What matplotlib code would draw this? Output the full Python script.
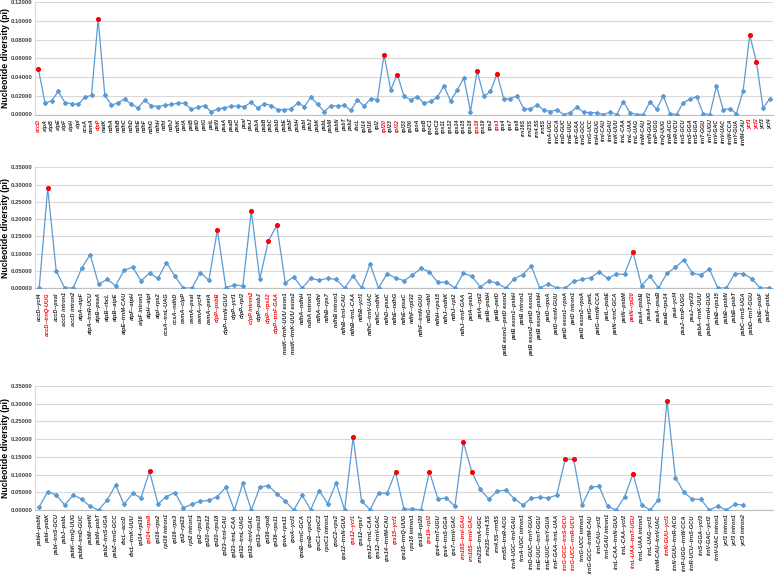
import matplotlib
matplotlib.use("Agg")
import matplotlib.pyplot as plt
import numpy as np
from matplotlib.ticker import FormatStrFormatter

plt.rcParams['font.family'] = ['Liberation Sans', 'DejaVu Sans']

# ---------------- Panel 1: genes ----------------
genes = ["accD", "atpA", "atpB", "atpE", "atpF", "atpH", "atpI", "ccsA", "cemA", "clpP",
         "matK", "ndhA", "ndhB", "ndhC", "ndhD", "ndhE", "ndhF", "ndhG", "ndhH", "ndhI",
         "ndhJ", "ndhK", "petA", "petB", "petD", "petG", "petL", "petN", "psaA", "psaB",
         "psaC", "psaI", "psaJ", "psbA", "psbB", "psbC", "psbD", "psbE", "psbF", "psbH",
         "psbI", "psbJ", "psbK", "psbL", "psbM", "psbN", "psbT", "psbZ", "rbcL", "rpl14",
         "rpl16", "rpl2", "rpl20", "rpl23", "rpl32", "rpl33", "rpl36", "rpoA", "rpoB", "rpoC1",
         "rpoC2", "rps11", "rps12", "rps14", "rps15", "rps16", "rps18", "rps19", "rps2", "rps3",
         "rps4", "rps7", "rps8", "rrn16S", "rrn23S", "rrn4.5S", "rrn5S", "trnA-UGC", "trnC-GCA", "trnD-GUC",
         "trnE-UUC", "trnF-GAA", "trnG-GCC", "trnG-UCC", "trnH-GUG", "trnI-CAU", "trnI-GAU", "trnK-UUU", "trnL-CAA", "trnL-UAA",
         "trnL-UAG", "trnM-CAU", "trnN-GUU", "trnP-UGG", "trnQ-UUG", "trnR-ACG", "trnR-UCU", "trnS-GCU", "trnS-GGA", "trnS-UGA",
         "trnT-GGU", "trnT-UGU", "trnV-GAC", "trnV-UAC", "trnW-CCA", "trnY-GUA", "trnfM-CAU", "ycf1", "ycf2", "ycf3",
         "ycf4"]
pi_genes = [0.0490, 0.0125, 0.0146, 0.0246, 0.0128, 0.0117, 0.0107, 0.0185, 0.0206, 0.1020,
            0.0206, 0.0100, 0.0125, 0.0167, 0.0107, 0.0071, 0.0153, 0.0093, 0.0085, 0.0100,
            0.0107, 0.0121, 0.0121, 0.0057, 0.0078, 0.0096, 0.0028, 0.0060, 0.0071, 0.0089,
            0.0089, 0.0085, 0.0132, 0.0068, 0.0117, 0.0096, 0.0053, 0.0053, 0.0057, 0.0125,
            0.0085, 0.0185, 0.0110, 0.0032, 0.0096, 0.0089, 0.0100, 0.0043, 0.0157, 0.0089,
            0.0171, 0.0160, 0.0640, 0.0263, 0.0427, 0.0196, 0.0157, 0.0192, 0.0121, 0.0142,
            0.0182, 0.0306, 0.0146, 0.0260, 0.0392, 0.0032, 0.0466, 0.0196, 0.0246, 0.0434,
            0.0167, 0.0171, 0.0200, 0.0064, 0.0057, 0.0103, 0.0050, 0.0032, 0.0050, 0.0000,
            0.0020, 0.0078, 0.0025, 0.0020, 0.0020, 0.0000, 0.0025, 0.0000, 0.0139, 0.0018,
            0.0000, 0.0000, 0.0135, 0.0057, 0.0200, 0.0010, 0.0000, 0.0128, 0.0164, 0.0192,
            0.0010, 0.0000, 0.0306, 0.0053, 0.0060, 0.0010, 0.0250, 0.0850, 0.0566, 0.0071,
            0.0167]
hot_genes = ["accD", "clpP", "rpl20", "rpl32", "rps18", "rps3", "ycf1", "ycf2"]

# ---------------- Panel 2: intergenic / introns (a) ----------------
regions_a = ["accD--ycf4", "accD--trnQ-UUG", "accD--psaI", "accD intron1", "accD intron2",
             "atpA--atpF", "atpA--trnR-UCU", "atpB--psaA", "atpB--rbcL", "atpB--atpE",
             "atpE--trnM-CAU", "atpF--atpH", "atpF intron1", "atpH--atpI", "atpI--rps2",
             "ccsA--trnL-UAG", "ccsA--ndhD", "cemA--clpP", "cemA--psaI", "cemA--ycf4",
             "cemA--petA", "clpP--psbB", "clpP--trnN-GUU", "clpP--ycf1", "clpP--rpl2",
             "clpP intron2", "clpP--psbJ", "clpP--rps12", "clpP--trnF-GAA", "matK--trnK-UUU exon1",
             "matK--trnK-UUU exon2", "ndhA--ndhH", "ndhA intron1", "ndhA--ndhI", "ndhB--rps7",
             "ndhB intron1", "ndhB--trnI-CAU", "ndhB--trnL-CAA", "ndhB--ycf1", "ndhC--trnV-UAC",
             "ndhC--ndhK", "ndhD--psaC", "ndhE--ndhG", "ndhE--psaC", "ndhF--rpl32",
             "ndhF--trnN-GUU", "ndhG--ndhI", "ndhH--rps15", "ndhJ--ndhK", "ndhJ--rpl2",
             "ndhJ--trnF-GAA", "petA--psbJ", "petA--rpl2", "petB--psbH", "petB--petD",
             "petB exon1--petD exon2", "petB exon1--psbH", "petB intron1", "petB exon2--petD exon1", "petB exon2--psbH",
             "petD--rpoA", "petD--trnN-GUU", "petD exon1--rpoA", "petD intron1", "petD exon2--rpoA",
             "petG--petL", "petG--trnW-CCA", "petL--psbE", "petN--trnC-GCA", "petN--psbM",
             "petN--rpl20", "psaA--psbB", "psaA--ycf3", "psaA--psaB", "psaB--rps14",
             "psaI--ycf4", "psaJ--trnP-UGG", "psaJ--rpl33", "psbA--trnK-UUU", "psbA--trnH-GUG",
             "psbB--rps15", "psbB--psbN", "psbB--psbT", "psbC--trnS-UGA", "psbD--trnT-GGU",
             "psbE--psbF", "psbF--psbL"]
pi_regions_a = [0.001, 0.290, 0.049, 0.000, 0.000,
                0.057, 0.097, 0.011, 0.025, 0.007,
                0.051, 0.061, 0.021, 0.043, 0.028,
                0.074, 0.034, 0.000, 0.000, 0.045,
                0.022, 0.169, 0.001, 0.009, 0.006,
                0.224, 0.026, 0.136, 0.182, 0.0155,
                0.032, 0.000, 0.028, 0.023, 0.028,
                0.025, 0.000, 0.035, 0.000, 0.070,
                0.000, 0.041, 0.030, 0.021, 0.038,
                0.057, 0.047, 0.016, 0.017, 0.000,
                0.043, 0.034, 0.003, 0.021, 0.0135,
                0.000, 0.027, 0.039, 0.064, 0.000,
                0.012, 0.000, 0.000, 0.019, 0.025,
                0.030, 0.047, 0.028, 0.040, 0.040,
                0.104, 0.007, 0.034, 0.000, 0.043,
                0.060, 0.082, 0.043, 0.038, 0.055,
                0.000, 0.000, 0.042, 0.042, 0.027,
                0.000, 0.000]
hot_regions_a = ["accD--trnQ-UUG", "clpP--psbB", "clpP intron2", "clpP--rps12",
                 "clpP--trnF-GAA", "petN--rpl20"]

# ---------------- Panel 3: intergenic / introns (b) ----------------
regions_b = ["psbH--psbN", "psbI--psbK", "psbI--trnS-GCU", "psbJ--psbL", "psbK--trnQ-UUG",
             "psbM--trnD-GUC", "psbM--petN", "psbN--psbT", "psbZ--trnS-UGA", "psbZ--trnG-GCC",
             "rbcL--accD", "rbcL--trnK-UUU", "rpl14--rpl16", "rpl14--rps8", "rpl16--rps2",
             "rpl16 intron1", "rpl16--rps3", "rpl2--rpl23", "rpl2 intron1", "rpl2--rps19",
             "rpl20--rps12", "rpl20--rps18", "rpl23--trnI-CAU", "rpl23--trnL-CAA", "rpl32--trnL-UAG",
             "rpl32--trnV-GAC", "rpl33--rps18", "rpl36--rps8", "rpl36--rps11", "rpoA--rps11",
             "rpoA--ycf1", "rpoB--trnC-GCA", "rpoB--rpoC1", "rpoC1--rpoC2", "rpoC1 intron1",
             "rpoC2--rps2", "rps12--trnN-GUU", "rps12--ycf1", "rps12--rps7", "rps12--trnL-CAA",
             "rps12--trnV-GAC", "rps14--trnfM-CAU", "rps15--ycf1", "rps16--trnQ-UUG", "rps16 intron1",
             "rps18--rpl20", "rps19--rpl2", "rps4--trnT-UGU", "rps4--trnS-GGA", "rps7--trnV-GAC",
             "rrn16S--trnI-GAU", "rrn16S--trnV-GAC", "rrn23S--trnA-UGC", "rrn23S--rrn4.5S", "rrn4.5S--rrn5S",
             "rrn5S--trnR-ACG", "trnA-UGC--trnI-GAU", "trnA-UGC intron1", "trnD-GUC--trnY-GUA", "trnE-UUC--trnT-GGU",
             "trnE-UUC--trnY-GUA", "trnF-GAA--trnL-UAA", "trnG-GCC--trnS-GCU", "trnG-UCC--trnR-UCU", "trnG-UCC intron1",
             "trnG-GCC--trnfM-CAU", "trnI-CAU--ycf2", "trnI-GAU intron1", "trnL-CAA--trnN-GUU", "trnL-CAA--ycf2",
             "trnL-UAA--trnT-UGU", "trnL-UAA intron1", "trnL-UAG--ycf1", "trnM-CAU--trnV-UAC", "trnN-GUU--ycf1",
             "trnN-GUU--trnR-ACG", "trnP-UGG--trnW-CCA", "trnR-UCU--trnS-GCU", "trnS-GGA--ycf3", "trnV-GAC--ycf2",
             "trnV-UAC intron1", "ycf1 intron1", "ycf3 intron1", "ycf3 intron2"]
pi_regions_b = [0.0094, 0.051, 0.043, 0.014, 0.042,
                0.031, 0.010, 0.000, 0.028, 0.070,
                0.016, 0.047, 0.034, 0.109, 0.017,
                0.038, 0.049, 0.0057, 0.017, 0.0245,
                0.027, 0.038, 0.064, 0.000, 0.075,
                0.000, 0.064, 0.069, 0.046, 0.025,
                0.000, 0.041, 0.001, 0.055, 0.018,
                0.076, 0.000, 0.205, 0.025, 0.001,
                0.048, 0.047, 0.107, 0.002, 0.003,
                0.000, 0.108, 0.031, 0.034, 0.010,
                0.191, 0.107, 0.058, 0.031, 0.053,
                0.056, 0.032, 0.014, 0.033, 0.036,
                0.034, 0.042, 0.143, 0.143, 0.014,
                0.064, 0.067, 0.010, 0.000, 0.037,
                0.102, 0.015, 0.000, 0.029, 0.309,
                0.091, 0.050, 0.030, 0.030, 0.000,
                0.011, 0.000, 0.016, 0.014]
hot_regions_b = ["rpl14--rps8", "rps12--ycf1", "rps15--ycf1", "rps19--rpl2",
                 "rrn16S--trnI-GAU", "rrn16S--trnV-GAC", "trnG-GCC--trnS-GCU",
                 "trnG-UCC--trnR-UCU", "trnL-UAA--trnT-UGU", "trnN-GUU--ycf1"]

LINE = "#5B9BD5"
RED = "#FF0000"

fig = plt.figure(figsize=(7.77, 5.78), dpi=100)
W_PX, H_PX = 777.0, 578.0
left_px, right_px = 35.0, 773.0


def make_axes(top_px, bottom_px):
    return fig.add_axes([left_px / W_PX, 1 - bottom_px / H_PX,
                         (right_px - left_px) / W_PX, (bottom_px - top_px) / H_PX])


def draw(ax, labels, values, hot, ymax, ystep, nslots, fs):
    x = np.arange(len(labels))
    ax.plot(x, values, color=LINE, lw=0.9, marker='D', ms=2.0,
            mfc=LINE, mec=LINE, zorder=3)
    hx = [i for i, l in enumerate(labels) if l in hot]
    hy = [values[i] for i in hx]
    ax.plot(hx, hy, linestyle='none', marker='o', ms=2.6, mfc=RED, mec=RED, zorder=4)
    ax.set_xlim(-0.5, nslots - 0.5)
    ax.set_ylim(0, ymax)
    ax.set_yticks(np.arange(0, ymax + 1e-9, ystep))
    ax.yaxis.set_major_formatter(FormatStrFormatter('%.5f'))
    ax.grid(axis='y', color='#D9D9D9', lw=0.8)
    ax.set_axisbelow(True)
    for s in ('top', 'right'):
        ax.spines[s].set_visible(False)
    ax.spines['left'].set_color('#D9D9D9')
    ax.spines['left'].set_linewidth(0.8)
    ax.spines['bottom'].set_color('#BFBFBF')
    ax.spines['bottom'].set_linewidth(0.8)
    ax.set_xticks(x)
    ax.set_xticklabels(labels, rotation=90, fontsize=fs, fontstyle='italic',
                       fontweight='bold', color='#262626')
    for t, l in zip(ax.get_xticklabels(), labels):
        if l in hot:
            t.set_color(RED)
    ax.tick_params(axis='x', length=0, pad=3)
    ax.tick_params(axis='y', length=0, pad=2, labelsize=4.2, labelcolor='#404040')
    for t in ax.get_yticklabels():
        t.set_fontweight('bold')
    ax.set_ylabel('Nucleotide diversity (pi)', fontsize=6.3, fontweight='bold', color='black')
    ax.yaxis.set_label_coords(-0.034, 0.5)


ax1 = make_axes(2.3, 114.5)
draw(ax1, genes, pi_genes, hot_genes, 0.12, 0.02, len(genes), 3.9)

ax2 = make_axes(167.5, 288.0)
draw(ax2, regions_a, pi_regions_a, hot_regions_a, 0.35, 0.05, len(regions_a), 4.1)

ax3 = make_axes(386.0, 510.0)
draw(ax3, regions_b, pi_regions_b, hot_regions_b, 0.35, 0.05, len(regions_a), 4.1)

fig.savefig("out.png", dpi=100)
